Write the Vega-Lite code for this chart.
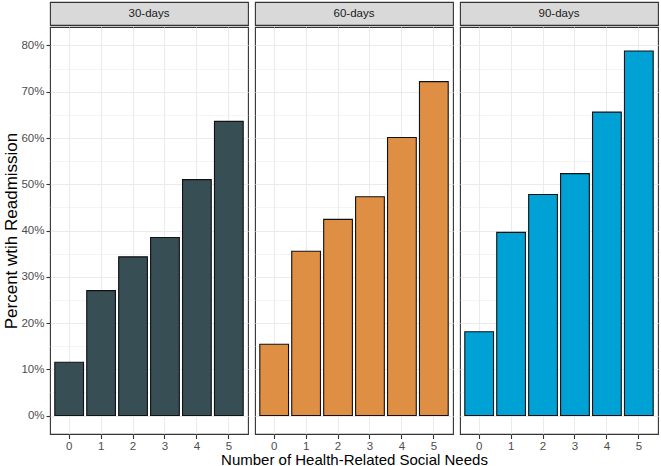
{
  "$schema": "https://vega.github.io/schema/vega-lite/v6.json",
  "padding": {"left": 2, "top": 1, "right": 2, "bottom": 0},
  "background": "white",
  "title": {"text": "Number of Health-Related Social Needs", "orient": "bottom", "anchor": "middle", "frame": "bounds", "fontSize": 15, "fontWeight": "normal", "font": "Liberation Sans", "color": "#000000", "offset": 0, "dx": 24},
  "config": {
    "font": "Liberation Sans",
    "view": {"stroke": "#333333", "strokeWidth": 1.1},
    "axis": {
      "labelFont": "Liberation Sans",
      "titleFont": "Liberation Sans",
      "labelFontSize": 11.5,
      "labelColor": "#4D4D4D",
      "tickColor": "#333333",
      "tickWidth": 1.1,
      "domain": false,
      "gridColor": "#EBEBEB",
      "titleFontWeight": "normal",
      "titleColor": "#000000"
    }
  },
  "datasets": {
    "bars": [
      {"period": "30-days", "needs": 0, "pct": 11.5},
      {"period": "30-days", "needs": 1, "pct": 27.0},
      {"period": "30-days", "needs": 2, "pct": 34.3},
      {"period": "30-days", "needs": 3, "pct": 38.5},
      {"period": "30-days", "needs": 4, "pct": 51.0},
      {"period": "30-days", "needs": 5, "pct": 63.6},
      {"period": "60-days", "needs": 0, "pct": 15.4},
      {"period": "60-days", "needs": 1, "pct": 35.5},
      {"period": "60-days", "needs": 2, "pct": 42.4},
      {"period": "60-days", "needs": 3, "pct": 47.3},
      {"period": "60-days", "needs": 4, "pct": 60.1},
      {"period": "60-days", "needs": 5, "pct": 72.2},
      {"period": "90-days", "needs": 0, "pct": 18.1},
      {"period": "90-days", "needs": 1, "pct": 39.6},
      {"period": "90-days", "needs": 2, "pct": 47.8},
      {"period": "90-days", "needs": 3, "pct": 52.3},
      {"period": "90-days", "needs": 4, "pct": 65.6},
      {"period": "90-days", "needs": 5, "pct": 78.8}
    ],
    "panels": [
      {"period": "30-days"},
      {"period": "60-days"},
      {"period": "90-days"}
    ]
  },
  "spacing": 5,
  "hconcat": [
    {
      "spacing": 0,
      "vconcat": [
        {
          "data": {"name": "panels"},
          "transform": [{"filter": "datum.period === '30-days'"}],
          "width": 198, "height": 23,
          "view": {"fill": "#D9D9D9", "stroke": "#333333", "strokeWidth": 1.1},
          "mark": {"type": "text", "fontSize": 11.5, "color": "#1A1A1A", "font": "Liberation Sans"},
          "encoding": {"text": {"field": "period"}}
        },
        {
          "data": {"name": "bars"},
          "transform": [{"filter": "datum.period === '30-days'"}],
          "width": 198, "height": 407,
          "mark": {"type": "bar", "stroke": "#111111", "strokeWidth": 1.1},
          "encoding": {
            "x": {"field": "needs", "type": "ordinal",
              "scale": {"paddingInner": 0.1, "paddingOuter": 0.15},
              "axis": {"title": null, "labelAngle": 0, "bandPosition": 0.5, "grid": true, "gridWidth": 1.1, "tickSize": 4.5, "labelPadding": 2}},
            "y": {"field": "pct", "type": "quantitative",
              "scale": {"domain": [-4, 84], "nice": false, "zero": false},
              "axis": {
                "values": [0, 5, 10, 15, 20, 25, 30, 35, 40, 45, 50, 55, 60, 65, 70, 75, 80],
                "title": "Percent wtih Readmission",
                "titleFontSize": 17,
                "titlePadding": 0,
                "labelOverlap": false,
                "labelExpr": "datum.value % 10 === 0 ? datum.value + '%' : ''",
                "labelPadding": 2,
                "tickSize": 4,
                "tickOpacity": {"condition": {"test": "datum.value % 10 === 0", "value": 1}, "value": 0},
                "grid": true,
                "gridWidth": {"condition": {"test": "datum.value % 10 === 0", "value": 1.1}, "value": 0.55}
              }},
            "y2": {"datum": 0},
            "color": {"field": "period", "type": "nominal",
              "scale": {"domain": ["30-days", "60-days", "90-days"], "range": ["#374E55", "#DF8F44", "#00A1D5"]},
              "legend": null}
          }
        }
      ]
    },
    {
      "spacing": 0,
      "vconcat": [
        {
          "data": {"name": "panels"},
          "transform": [{"filter": "datum.period === '60-days'"}],
          "width": 198, "height": 23,
          "view": {"fill": "#D9D9D9", "stroke": "#333333", "strokeWidth": 1.1},
          "mark": {"type": "text", "fontSize": 11.5, "color": "#1A1A1A", "font": "Liberation Sans"},
          "encoding": {"text": {"field": "period"}}
        },
        {
          "data": {"name": "bars"},
          "transform": [{"filter": "datum.period === '60-days'"}],
          "width": 198, "height": 407,
          "mark": {"type": "bar", "stroke": "#111111", "strokeWidth": 1.1},
          "encoding": {
            "x": {"field": "needs", "type": "ordinal",
              "scale": {"paddingInner": 0.1, "paddingOuter": 0.15},
              "axis": {"title": null, "labelAngle": 0, "bandPosition": 0.5, "grid": true, "gridWidth": 1.1, "tickSize": 4.5, "labelPadding": 2}},
            "y": {"field": "pct", "type": "quantitative",
              "scale": {"domain": [-4, 84], "nice": false, "zero": false},
              "axis": {
                "values": [0, 5, 10, 15, 20, 25, 30, 35, 40, 45, 50, 55, 60, 65, 70, 75, 80],
                "title": null, "labels": false, "ticks": false, "minExtent": 0,
                "grid": true,
                "gridWidth": {"condition": {"test": "datum.value % 10 === 0", "value": 1.1}, "value": 0.55}
              }},
            "y2": {"datum": 0},
            "color": {"field": "period", "type": "nominal",
              "scale": {"domain": ["30-days", "60-days", "90-days"], "range": ["#374E55", "#DF8F44", "#00A1D5"]},
              "legend": null}
          }
        }
      ]
    },
    {
      "spacing": 0,
      "vconcat": [
        {
          "data": {"name": "panels"},
          "transform": [{"filter": "datum.period === '90-days'"}],
          "width": 198, "height": 23,
          "view": {"fill": "#D9D9D9", "stroke": "#333333", "strokeWidth": 1.1},
          "mark": {"type": "text", "fontSize": 11.5, "color": "#1A1A1A", "font": "Liberation Sans"},
          "encoding": {"text": {"field": "period"}}
        },
        {
          "data": {"name": "bars"},
          "transform": [{"filter": "datum.period === '90-days'"}],
          "width": 198, "height": 407,
          "mark": {"type": "bar", "stroke": "#111111", "strokeWidth": 1.1},
          "encoding": {
            "x": {"field": "needs", "type": "ordinal",
              "scale": {"paddingInner": 0.1, "paddingOuter": 0.15},
              "axis": {"title": null, "labelAngle": 0, "bandPosition": 0.5, "grid": true, "gridWidth": 1.1, "tickSize": 4.5, "labelPadding": 2}},
            "y": {"field": "pct", "type": "quantitative",
              "scale": {"domain": [-4, 84], "nice": false, "zero": false},
              "axis": {
                "values": [0, 5, 10, 15, 20, 25, 30, 35, 40, 45, 50, 55, 60, 65, 70, 75, 80],
                "title": null, "labels": false, "ticks": false, "minExtent": 0,
                "grid": true,
                "gridWidth": {"condition": {"test": "datum.value % 10 === 0", "value": 1.1}, "value": 0.55}
              }},
            "y2": {"datum": 0},
            "color": {"field": "period", "type": "nominal",
              "scale": {"domain": ["30-days", "60-days", "90-days"], "range": ["#374E55", "#DF8F44", "#00A1D5"]},
              "legend": null}
          }
        }
      ]
    }
  ]
}
